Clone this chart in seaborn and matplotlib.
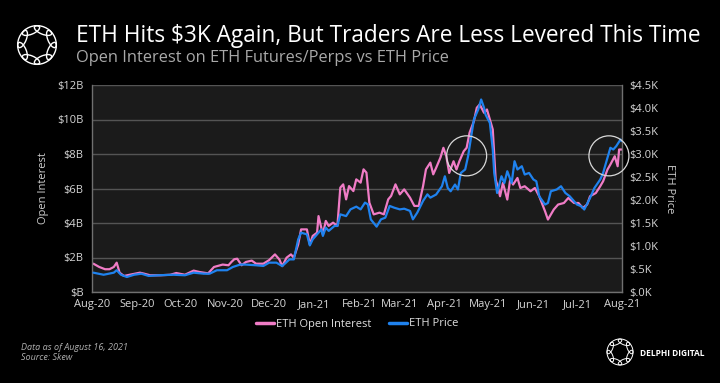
import pandas as pd
import numpy as np
import matplotlib
matplotlib.use('Agg')
import matplotlib.pyplot as plt
import matplotlib.dates as mdates
from matplotlib.patches import Ellipse
from matplotlib.lines import Line2D
import seaborn as sns

# ETH open interest (billions USD)
oi_dates = ['2020-08-02', '2020-08-06', '2020-08-10', '2020-08-13', '2020-08-16', '2020-08-18', '2020-08-20',
            '2020-08-23', '2020-08-27', '2020-09-03', '2020-09-06', '2020-09-10', '2020-09-17', '2020-09-24',
            '2020-09-28', '2020-10-04', '2020-10-10', '2020-10-14', '2020-10-20', '2020-10-24', '2020-10-30',
            '2020-11-03', '2020-11-05', '2020-11-07', '2020-11-09', '2020-11-12', '2020-11-15', '2020-11-19',
            '2020-11-22', '2020-11-27', '2020-12-01', '2020-12-05', '2020-12-08', '2020-12-10', '2020-12-13',
            '2020-12-16', '2020-12-18', '2020-12-21', '2020-12-23', '2020-12-27', '2020-12-29', '2020-12-31',
            '2021-01-03', '2021-01-04', '2021-01-07', '2021-01-09', '2021-01-11', '2021-01-14', '2021-01-17',
            '2021-01-19', '2021-01-21', '2021-01-23', '2021-01-25', '2021-01-28', '2021-01-30', '2021-02-02',
            '2021-02-04', '2021-02-06', '2021-02-08', '2021-02-11', '2021-02-15', '2021-02-18', '2021-02-21',
            '2021-02-23', '2021-02-26', '2021-03-01', '2021-03-04', '2021-03-08', '2021-03-11', '2021-03-14',
            '2021-03-17', '2021-03-19', '2021-03-22', '2021-03-24', '2021-03-26', '2021-03-29', '2021-03-31',
            '2021-04-02', '2021-04-04', '2021-04-07', '2021-04-09', '2021-04-11', '2021-04-14', '2021-04-16',
            '2021-04-18', '2021-04-21', '2021-04-23', '2021-04-25', '2021-04-28', '2021-04-30', '2021-05-02',
            '2021-05-04', '2021-05-06', '2021-05-08', '2021-05-09', '2021-05-11', '2021-05-14', '2021-05-16',
            '2021-05-18', '2021-05-21', '2021-05-23', '2021-05-26', '2021-05-30', '2021-06-02', '2021-06-05',
            '2021-06-09', '2021-06-11', '2021-06-15', '2021-06-18', '2021-06-22', '2021-06-25', '2021-06-29',
            '2021-07-02', '2021-07-05', '2021-07-08', '2021-07-10', '2021-07-14', '2021-07-17', '2021-07-19',
            '2021-07-22', '2021-07-24', '2021-07-27', '2021-07-29', '2021-07-30', '2021-08-01']
oi_billions = [1.64, 1.45, 1.32, 1.32, 1.45, 1.70, 1.12, 0.93, 1.00,
               1.12, 1.06, 0.97, 0.97, 1.00, 1.10,
               1.00, 1.24, 1.16, 1.08, 1.45, 1.59,
               1.55, 1.74, 1.90, 1.93, 1.55, 1.74, 1.82, 1.64, 1.64,
               1.85, 2.18, 1.89, 1.50, 1.99, 2.18, 1.99, 2.76, 3.63, 3.63, 2.76, 3.25,
               3.44, 4.40, 3.34, 4.12, 3.83, 4.02, 3.83, 6.05, 6.24, 5.37, 6.14, 5.85, 6.53,
               6.34, 7.11, 6.92, 5.18, 4.50, 4.60, 4.50, 5.37, 5.57, 6.24,
               5.66, 5.95, 5.47, 4.99, 4.99, 6.14, 7.11, 7.50, 6.82, 7.20, 7.80, 8.36,
               7.87, 6.90, 7.58, 7.10, 7.58, 8.16, 8.36, 9.23, 9.90, 10.68, 10.87, 10.39, 10.58,
               10.00, 9.42, 6.52, 5.94, 5.55, 6.32, 5.36, 6.52, 6.23, 6.61, 6.03, 6.13, 5.84,
               6.03, 5.55, 4.68, 4.20, 4.78, 5.07, 5.16, 5.45, 5.16,
               5.16, 4.87, 5.07, 5.55, 5.74, 6.13, 6.42, 7.10, 7.39, 7.87, 7.29, 8.26, 8.26]

# ETH price (USD)
price_dates = ['2020-08-02', '2020-08-09', '2020-08-16', '2020-08-18', '2020-08-21', '2020-08-25', '2020-08-30',
               '2020-09-04', '2020-09-09', '2020-09-16', '2020-09-26',
               '2020-10-04', '2020-10-10', '2020-10-17', '2020-10-21', '2020-10-26',
               '2020-11-02', '2020-11-06', '2020-11-11', '2020-11-15', '2020-11-22', '2020-11-27',
               '2020-12-01', '2020-12-06', '2020-12-10', '2020-12-15', '2020-12-18', '2020-12-21', '2020-12-23',
               '2020-12-27', '2020-12-29', '2020-12-31',
               '2021-01-04', '2021-01-06', '2021-01-07', '2021-01-09', '2021-01-11', '2021-01-15', '2021-01-17',
               '2021-01-19', '2021-01-23', '2021-01-26', '2021-01-30',
               '2021-02-02', '2021-02-05', '2021-02-07', '2021-02-09', '2021-02-13', '2021-02-16', '2021-02-19',
               '2021-02-22', '2021-02-25',
               '2021-03-01', '2021-03-04', '2021-03-08', '2021-03-10', '2021-03-13', '2021-03-17', '2021-03-20',
               '2021-03-22', '2021-03-26', '2021-03-30',
               '2021-04-01', '2021-04-03', '2021-04-05', '2021-04-08', '2021-04-10', '2021-04-12', '2021-04-15',
               '2021-04-17', '2021-04-19', '2021-04-21', '2021-04-24', '2021-04-26', '2021-04-28', '2021-04-29',
               '2021-05-02', '2021-05-04', '2021-05-05', '2021-05-07', '2021-05-10', '2021-05-12', '2021-05-14',
               '2021-05-17', '2021-05-19', '2021-05-21', '2021-05-24', '2021-05-26', '2021-05-29',
               '2021-06-01', '2021-06-03', '2021-06-05', '2021-06-09', '2021-06-11', '2021-06-13', '2021-06-17',
               '2021-06-20', '2021-06-23', '2021-06-26',
               '2021-07-01', '2021-07-04', '2021-07-06', '2021-07-10', '2021-07-13', '2021-07-17', '2021-07-19',
               '2021-07-21', '2021-07-24', '2021-07-26', '2021-07-28', '2021-07-31', '2021-08-01']
price_usd = [420, 375, 420, 473, 375, 326, 375,
             398, 349, 364, 375,
             364, 420, 398, 398, 473,
             473, 544, 596, 596, 581, 566,
             638, 638, 563, 709, 709, 1144, 1290, 1253, 1013, 1144,
             1290, 1361, 1219, 1399, 1328, 1436, 1436, 1688, 1650, 1796, 1856,
             1796, 1943, 1905, 1579, 1421, 1579, 1616, 1871, 1834,
             1796, 1811, 1763, 1579, 1725, 1980, 2123, 2051, 2119, 2299,
             2516, 2261, 2190, 2336, 2228, 2588, 2663, 2951, 3353, 3750, 3968, 4185, 4005, 3859,
             3675, 3098, 2588, 2153, 2516, 2370, 2625, 2370, 2843, 2663, 2734, 2554, 2588,
             2445, 2408, 2081, 1901, 1935, 2190, 2228, 2299, 2153, 2081,
             1901, 1864, 1793, 2044, 2261, 2445, 2588, 2809, 3135, 3098, 3169, 3315, 3278]

oi_ticks = [0, 2, 4, 6, 8, 10, 12]
oi_labels = ['$B', '$2B', '$4B', '$6B', '$8B', '$10B', '$12B']
price_ticks = [0, 500, 1000, 1500, 2000, 2500, 3000, 3500, 4000, 4500]
price_labels = ['$.0K', '$.5K', '$1.0K', '$1.5K', '$2.0K', '$2.5K', '$3.0K', '$3.5K', '$4.0K', '$4.5K']

# the two highlighted moments (ETH near $3K)
circle_dates = ['2021-04-16', '2021-07-23']
circle_price = [2960, 2960]

PINK = '#f07cc6'
BLUE = '#1f82ee'
W, H = 720, 383

sns.set_style('dark')
plt.rcParams['font.family'] = ['Open Sans', 'DejaVu Sans']

fig = plt.figure(figsize=(W / 100, H / 100), dpi=100, facecolor='black')
ax = fig.add_axes([92 / W, 1 - 292 / H, 530 / W, 207 / H])
ax.set_facecolor('#1b1b1b')
ax2 = ax.twinx()

sns.lineplot(x=pd.to_datetime(oi_dates), y=oi_billions, ax=ax, color=PINK, linewidth=1.6)
sns.lineplot(x=pd.to_datetime(price_dates), y=price_usd, ax=ax2, color=BLUE, linewidth=1.6)
ax2.scatter(pd.to_datetime(circle_dates), circle_price, s=830, facecolors='none',
            edgecolors='#d9d9d9', linewidths=0.9, clip_on=False, zorder=5)

ax.set_xlim(pd.Timestamp('2020-08-01'), pd.Timestamp('2021-08-01'))
ax.set_xticks(pd.date_range('2020-08-01', '2021-08-01', freq='MS'))
ax.xaxis.set_major_formatter(mdates.DateFormatter('%b-%y'))

ax.set_ylim(0, 12)
ax.set_yticks(oi_ticks)
ax.set_yticklabels(oi_labels)
ax2.set_ylim(0, 4500)
ax2.set_yticks(price_ticks)
ax2.set_yticklabels(price_labels)

ax.grid(axis='y', color='#545454', linewidth=1.0)
ax.grid(axis='x', visible=False)
ax2.grid(False)
ax.set_axisbelow(True)

for a in (ax, ax2):
    for s in a.spines.values():
        s.set_visible(False)
ax.spines['left'].set_visible(True)
ax.spines['bottom'].set_visible(True)
ax2.spines['right'].set_visible(True)
for s in (ax.spines['left'], ax.spines['bottom'], ax2.spines['right']):
    s.set_color('#707070')
    s.set_linewidth(1.0)

ax.tick_params(axis='x', colors='#707070', labelcolor='#d6d6d6', labelsize=8,
               direction='out', length=3, width=0.8, pad=2)
ax.tick_params(axis='y', length=0, labelcolor='#d6d6d6', labelsize=8, pad=6)
ax2.tick_params(axis='y', length=0, labelcolor='#d6d6d6', labelsize=8, pad=5)

ax.set_xlabel('')
ax.set_ylabel('Open Interest', color='#cfcfcf', fontsize=8, labelpad=6)
ax2.set_ylabel('ETH Price', color='#cfcfcf', fontsize=8, rotation=270, labelpad=12)

handles = [Line2D([], [], color=PINK, lw=2.5), Line2D([], [], color=BLUE, lw=2.5)]
fig.legend(handles, ['ETH Open Interest', 'ETH Price'], loc='center',
           bbox_to_anchor=(357 / W, 1 - 324 / H), ncol=2, frameon=False, fontsize=8,
           labelcolor='#e0e0e0', handlelength=1.6, handletextpad=0.2, columnspacing=1.6)

fig.text(76 / W, 1 - 36 / H, 'ETH Hits $3K Again, But Traders Are Less Levered This Time',
         color='white', fontsize=16.3, va='center')
fig.text(76 / W, 1 - 58 / H, 'Open Interest on ETH Futures/Perps vs ETH Price',
         color='#a9a9a9', fontsize=11.8, va='center')
fig.text(21 / W, 1 - 347 / H, 'Data as of August 16, 2021', color='#b0b0b0',
         fontsize=6.5, style='italic', va='center')
fig.text(21 / W, 1 - 358 / H, 'Source: Skew', color='#b0b0b0',
         fontsize=6.5, style='italic', va='center')
fig.text(640 / W, 1 - 353 / H, 'DELPHI DIGITAL', color='white', fontsize=6,
         fontweight='bold', va='center')


def draw_logo(cx, cy, size, lw):
    lax = fig.add_axes([(cx - size / 2) / W, 1 - (cy + size / 2) / H, size / W, size / H])
    lax.set_xlim(-1, 1)
    lax.set_ylim(-1, 1)
    lax.set_aspect('equal')
    lax.axis('off')
    for k in range(8):
        ang = 2 * np.pi * k / 8 + np.pi / 8
        lax.add_patch(Ellipse((0.68 * np.cos(ang), 0.68 * np.sin(ang)), 0.32, 0.8,
                              angle=np.degrees(ang), fill=False, ec='white', lw=lw))


draw_logo(37, 45, 46, 1.0)
draw_logo(620, 352, 31, 0.7)

fig.savefig('out.png', dpi=100, facecolor='black')
